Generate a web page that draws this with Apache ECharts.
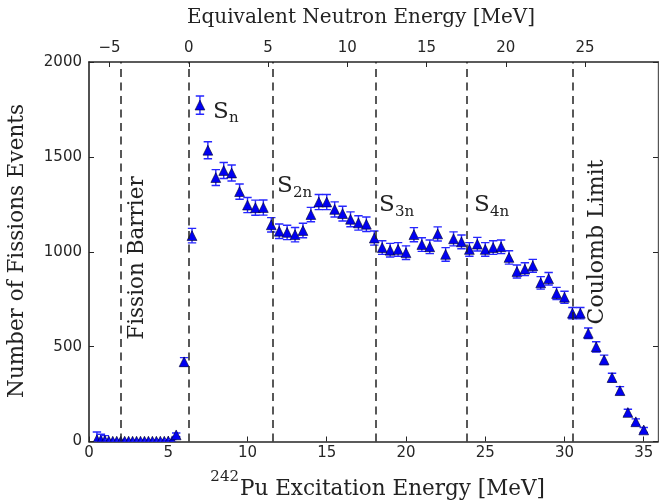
<!DOCTYPE html>
<html><head><meta charset="utf-8">
<script src="https://cdn.jsdelivr.net/npm/echarts@6/dist/echarts.min.js"></script>
<style>html,body{margin:0;padding:0;background:#fff}#c{width:659px;height:501px}</style>
</head><body><div id="c"></div>
<script>
// ---- data ----
const excitationEnergy = [
  0.5, 0.75, 1.0, 1.25, 1.5, 1.75, 2.0, 2.25, 2.5, 2.75, 3.0, 3.25, 3.5, 3.75, 4.0, 4.25, 4.5, 4.75, 5.0, 5.25,
  5.5, 6.0, 6.5, 7.0, 7.5, 8.0, 8.5, 9.0, 9.5, 10.0, 10.5, 11.0, 11.5, 12.0, 12.5, 13.0, 13.5, 14.0, 14.5, 15.0,
  15.5, 16.0, 16.5, 17.0, 17.5, 18.0, 18.5, 19.0, 19.5, 20.0, 20.5, 21.0, 21.5, 22.0, 22.5, 23.0, 23.5, 24.0,
  24.5, 25.0, 25.5, 26.0, 26.5, 27.0, 27.5, 28.0, 28.5, 29.0, 29.5, 30.0, 30.5, 31.0, 31.5, 32.0, 32.5, 33.0,
  33.5, 34.0, 34.5, 35.0
];
const fissionCounts = [
  10, 8, 6, 3, 2, 2, 2, 2, 2, 2, 2, 2, 2, 2, 2, 2, 2, 2, 3, 4,
  35, 420, 1085, 1773, 1535, 1391, 1428, 1415, 1317, 1246, 1232, 1233, 1142, 1108, 1102, 1090, 1112, 1196, 1262, 1262,
  1223, 1201, 1171, 1152, 1145, 1072, 1022, 1008, 1012, 995, 1090, 1038, 1026, 1094, 986, 1068, 1052, 1012,
  1040, 1012, 1022, 1026, 970, 896, 908, 926, 836, 858, 780, 760, 676, 676, 570, 499, 430, 337,
  268, 153, 104, 61
];
const fissionErrors = [
  40, 30, 25, 6, 5, 5, 5, 5, 5, 5, 5, 5, 5, 5, 5, 5, 5, 5, 6, 6,
  10, 22, 38, 48, 45, 42, 42, 42, 40, 40, 40, 40, 38, 38, 38, 38, 38, 38, 40, 40,
  40, 39, 39, 38, 38, 37, 36, 36, 36, 36, 37, 36, 36, 37, 36, 37, 36, 36,
  36, 36, 36, 36, 35, 34, 34, 34, 33, 33, 32, 32, 30, 30, 28, 27, 25, 23,
  21, 17, 15, 13
];
const bottomTickValues = [0, 5, 10, 15, 20, 25, 30, 35];
const topTickValues = [-5, 0, 5, 10, 15, 20, 25];
const neutronSeparation = 6.3;          // offset between the two x scales (MeV)
const thresholdEnergies = [1.98, 6.3, 11.58, 18.08, 23.82, 30.54];
const xMax = 35.9;
const yMin = 0, yMax = 2000, yStep = 500;

// ---- chart ----
const chart = echarts.init(document.getElementById('c'), null, {renderer: 'canvas'});
const axisColor = '#262626';
const serif = 'DejaVu Serif';
const sans = 'DejaVu Sans';
const points = excitationEnergy.map((e, i) => [e, fissionCounts[i], fissionErrors[i]]);

function fmt(v) { return v < 0 ? '\u2212' + (-v) : String(v); }

const gridL = 89, gridT = 62, gridW = 569, gridH = 379.5;

chart.setOption({
  animation: false,
  grid: {left: gridL, top: gridT, width: gridW, height: gridH, containLabel: false},
  xAxis: [
    {
      type: 'value', position: 'bottom', min: 0, max: xMax,
      axisLine: {show: true, onZero: false, lineStyle: {color: axisColor, width: 1.6}},
      axisTick: {show: true, inside: true, length: 5, customValues: bottomTickValues, lineStyle: {color: axisColor, width: 1}},
      axisLabel: {show: true, customValues: bottomTickValues, margin: 4, fontSize: 15, fontFamily: sans, color: axisColor, formatter: fmt},
      splitLine: {show: false}
    },
    {
      type: 'value', position: 'top', min: -neutronSeparation, max: xMax - neutronSeparation,
      axisLine: {show: true, onZero: false, lineStyle: {color: axisColor, width: 1.6}},
      axisTick: {show: true, inside: true, length: 5, customValues: topTickValues, lineStyle: {color: axisColor, width: 1}},
      axisLabel: {show: true, customValues: topTickValues, margin: 6, fontSize: 15, fontFamily: sans, color: axisColor, formatter: fmt},
      splitLine: {show: false}
    }
  ],
  yAxis: [
    {
      type: 'value', position: 'left', min: yMin, max: yMax, interval: yStep,
      axisLine: {show: true, onZero: false, lineStyle: {color: axisColor, width: 1.6}},
      axisTick: {show: true, inside: true, length: 5, lineStyle: {color: axisColor, width: 1}},
      axisLabel: {show: true, margin: 7, fontSize: 15, fontFamily: sans, color: axisColor, formatter: fmt},
      splitLine: {show: false}
    },
    {
      type: 'value', position: 'right', min: yMin, max: yMax, interval: yStep,
      axisLine: {show: true, onZero: false, lineStyle: {color: '#555', width: 1.4}},
      axisTick: {show: true, inside: true, length: 5, lineStyle: {color: axisColor, width: 1}},
      axisLabel: {show: false},
      splitLine: {show: false}
    }
  ],
  series: [
    {
      type: 'line', data: [], xAxisIndex: 0, yAxisIndex: 0, silent: true,
      markLine: {
        silent: true, symbol: ['none', 'none'], animation: false,
        label: {show: false},
        lineStyle: {color: '#222', width: 1.5, type: [8, 5.5]},
        data: thresholdEnergies.map(v => ({xAxis: v}))
      }
    },
    {
      type: 'custom', xAxisIndex: 0, yAxisIndex: 0, clip: true,
      data: points,
      encode: {x: 0, y: 1},
      renderItem: function (params, api) {
        const x = api.value(0), y = api.value(1), e = api.value(2);
        const c = api.coord([x, y]);
        const t = api.coord([x, y + e]);
        const b = api.coord([x, y - e]);
        const hw = 4.2, s = 4.9;
        const ebStyle = {stroke: '#2626ff', lineWidth: 1.4};
        return {
          type: 'group',
          children: [
            {type: 'line', shape: {x1: c[0], y1: t[1], x2: c[0], y2: b[1]}, style: ebStyle},
            {type: 'line', shape: {x1: c[0] - hw, y1: t[1], x2: c[0] + hw, y2: t[1]}, style: ebStyle},
            {type: 'line', shape: {x1: c[0] - hw, y1: b[1], x2: c[0] + hw, y2: b[1]}, style: ebStyle},
            {type: 'polygon', shape: {points: [[c[0], c[1] - s], [c[0] - s, c[1] + s], [c[0] + s, c[1] + s]]},
             style: {fill: '#0000f2', stroke: '#00002a', lineWidth: 0.6}}
          ]
        };
      }
    }
  ],
  graphic: [
    {type: 'text', x: 361, y: 18, style: {text: 'Equivalent Neutron Energy [MeV]', fontFamily: serif, fontSize: 20, fill: '#222', align: 'center', verticalAlign: 'middle'}},
    {type: 'text', x: 240, y: 489, style: {text: 'Pu Excitation Energy [MeV]', fontFamily: serif, fontSize: 21.5, fill: '#222', align: 'left', verticalAlign: 'middle'}},
    {type: 'text', x: 239, y: 477, style: {text: '242', fontFamily: serif, fontSize: 15, fill: '#222', align: 'right', verticalAlign: 'middle'}},
    {type: 'text', x: 17, y: 251, rotation: Math.PI / 2, style: {text: 'Number of Fissions Events', fontFamily: serif, fontSize: 21.5, fill: '#222', align: 'center', verticalAlign: 'middle'}},
    {type: 'text', x: 137, y: 258, rotation: Math.PI / 2, style: {text: 'Fission Barrier', fontFamily: serif, fontSize: 21.5, fill: '#222', align: 'center', verticalAlign: 'middle'}},
    {type: 'text', x: 597, y: 242, rotation: Math.PI / 2, style: {text: 'Coulomb Limit', fontFamily: serif, fontSize: 22, fill: '#222', align: 'center', verticalAlign: 'middle'}},
    {type: 'text', x: 213, y: 112, style: {text: 'S', fontFamily: serif, fontSize: 23, fill: '#222', align: 'left', verticalAlign: 'middle'}},
    {type: 'text', x: 229, y: 118, style: {text: 'n', fontFamily: serif, fontSize: 15, fill: '#222', align: 'left', verticalAlign: 'middle'}},
    {type: 'text', x: 277, y: 186, style: {text: 'S', fontFamily: serif, fontSize: 23, fill: '#222', align: 'left', verticalAlign: 'middle'}},
    {type: 'text', x: 293, y: 193, style: {text: '2n', fontFamily: serif, fontSize: 15, fill: '#222', align: 'left', verticalAlign: 'middle'}},
    {type: 'text', x: 379, y: 205, style: {text: 'S', fontFamily: serif, fontSize: 23, fill: '#222', align: 'left', verticalAlign: 'middle'}},
    {type: 'text', x: 395, y: 212, style: {text: '3n', fontFamily: serif, fontSize: 15, fill: '#222', align: 'left', verticalAlign: 'middle'}},
    {type: 'text', x: 474, y: 205, style: {text: 'S', fontFamily: serif, fontSize: 23, fill: '#222', align: 'left', verticalAlign: 'middle'}},
    {type: 'text', x: 490, y: 212, style: {text: '4n', fontFamily: serif, fontSize: 15, fill: '#222', align: 'left', verticalAlign: 'middle'}}
  ]
});
</script>
</body></html>
